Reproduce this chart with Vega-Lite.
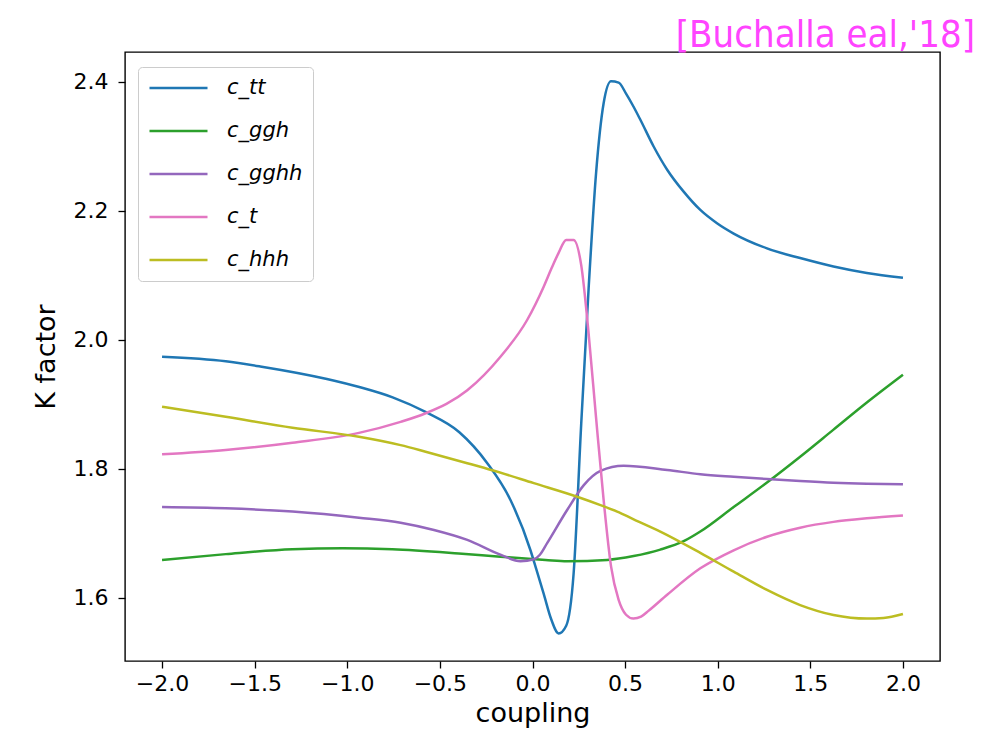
{
  "$schema": "https://vega.github.io/schema/vega-lite/v6.json",
  "width": 815,
  "height": 609,
  "autosize": {"type": "none"},
  "padding": {"left": 125, "top": 52, "right": 48, "bottom": 83},
  "background": "white",
  "title": {"text": "[Buchalla eal,'18]", "anchor": "end", "color": "#ff44ff", "font": "Liberation Sans Narrow, DejaVu Sans Condensed, sans-serif", "fontSize": 38, "fontWeight": "normal", "dx": 35, "dy": 38, "baseline": "alphabetic", "offset": 5},
  "data": {"values": [
    {"s": "c_tt", "coupling": -2.0, "K": 1.974},
    {"s": "c_tt", "coupling": -1.656, "K": 1.967},
    {"s": "c_tt", "coupling": -1.47, "K": 1.959},
    {"s": "c_tt", "coupling": -1.11, "K": 1.9395},
    {"s": "c_tt", "coupling": -0.935, "K": 1.927},
    {"s": "c_tt", "coupling": -0.755, "K": 1.911},
    {"s": "c_tt", "coupling": -0.575, "K": 1.888},
    {"s": "c_tt", "coupling": -0.395, "K": 1.857},
    {"s": "c_tt", "coupling": -0.244, "K": 1.809},
    {"s": "c_tt", "coupling": -0.119, "K": 1.752},
    {"s": "c_tt", "coupling": -0.011, "K": 1.674},
    {"s": "c_tt", "coupling": 0.02, "K": 1.645},
    {"s": "c_tt", "coupling": 0.061, "K": 1.606},
    {"s": "c_tt", "coupling": 0.101, "K": 1.567},
    {"s": "c_tt", "coupling": 0.141, "K": 1.545},
    {"s": "c_tt", "coupling": 0.182, "K": 1.557},
    {"s": "c_tt", "coupling": 0.222, "K": 1.638},
    {"s": "c_tt", "coupling": 0.263, "K": 1.87},
    {"s": "c_tt", "coupling": 0.303, "K": 2.08},
    {"s": "c_tt", "coupling": 0.343, "K": 2.258},
    {"s": "c_tt", "coupling": 0.384, "K": 2.367},
    {"s": "c_tt", "coupling": 0.424, "K": 2.401},
    {"s": "c_tt", "coupling": 0.465, "K": 2.399},
    {"s": "c_tt", "coupling": 0.505, "K": 2.382},
    {"s": "c_tt", "coupling": 0.545, "K": 2.362},
    {"s": "c_tt", "coupling": 0.583, "K": 2.341},
    {"s": "c_tt", "coupling": 0.654, "K": 2.3},
    {"s": "c_tt", "coupling": 0.727, "K": 2.264},
    {"s": "c_tt", "coupling": 0.816, "K": 2.23},
    {"s": "c_tt", "coupling": 0.906, "K": 2.2016},
    {"s": "c_tt", "coupling": 0.996, "K": 2.181},
    {"s": "c_tt", "coupling": 1.086, "K": 2.165},
    {"s": "c_tt", "coupling": 1.266, "K": 2.142},
    {"s": "c_tt", "coupling": 1.445, "K": 2.127},
    {"s": "c_tt", "coupling": 1.625, "K": 2.114},
    {"s": "c_tt", "coupling": 1.805, "K": 2.104},
    {"s": "c_tt", "coupling": 2.0, "K": 2.0966},

    {"s": "c_ggh", "coupling": -2.0, "K": 1.659},
    {"s": "c_ggh", "coupling": -1.656, "K": 1.668},
    {"s": "c_ggh", "coupling": -1.296, "K": 1.6755},
    {"s": "c_ggh", "coupling": -1.026, "K": 1.677},
    {"s": "c_ggh", "coupling": -0.757, "K": 1.6755},
    {"s": "c_ggh", "coupling": -0.398, "K": 1.669},
    {"s": "c_ggh", "coupling": -0.173, "K": 1.664},
    {"s": "c_ggh", "coupling": 0.07, "K": 1.659},
    {"s": "c_ggh", "coupling": 0.187, "K": 1.657},
    {"s": "c_ggh", "coupling": 0.403, "K": 1.659},
    {"s": "c_ggh", "coupling": 0.546, "K": 1.665},
    {"s": "c_ggh", "coupling": 0.69, "K": 1.675},
    {"s": "c_ggh", "coupling": 0.816, "K": 1.688},
    {"s": "c_ggh", "coupling": 0.906, "K": 1.703},
    {"s": "c_ggh", "coupling": 1.086, "K": 1.741},
    {"s": "c_ggh", "coupling": 1.266, "K": 1.779},
    {"s": "c_ggh", "coupling": 1.445, "K": 1.819},
    {"s": "c_ggh", "coupling": 1.625, "K": 1.861},
    {"s": "c_ggh", "coupling": 1.805, "K": 1.903},
    {"s": "c_ggh", "coupling": 2.0, "K": 1.946},

    {"s": "c_gghh", "coupling": -2.0, "K": 1.741},
    {"s": "c_gghh", "coupling": -1.656, "K": 1.739},
    {"s": "c_gghh", "coupling": -1.296, "K": 1.734},
    {"s": "c_gghh", "coupling": -0.937, "K": 1.7245},
    {"s": "c_gghh", "coupling": -0.712, "K": 1.7167},
    {"s": "c_gghh", "coupling": -0.532, "K": 1.7054},
    {"s": "c_gghh", "coupling": -0.352, "K": 1.69},
    {"s": "c_gghh", "coupling": -0.17, "K": 1.6667},
    {"s": "c_gghh", "coupling": -0.065, "K": 1.657},
    {"s": "c_gghh", "coupling": 0.007, "K": 1.66},
    {"s": "c_gghh", "coupling": 0.04, "K": 1.667},
    {"s": "c_gghh", "coupling": 0.079, "K": 1.685},
    {"s": "c_gghh", "coupling": 0.187, "K": 1.7364},
    {"s": "c_gghh", "coupling": 0.277, "K": 1.775},
    {"s": "c_gghh", "coupling": 0.367, "K": 1.797},
    {"s": "c_gghh", "coupling": 0.492, "K": 1.805},
    {"s": "c_gghh", "coupling": 0.727, "K": 1.7984},
    {"s": "c_gghh", "coupling": 0.906, "K": 1.792},
    {"s": "c_gghh", "coupling": 1.086, "K": 1.788},
    {"s": "c_gghh", "coupling": 1.266, "K": 1.7845},
    {"s": "c_gghh", "coupling": 1.445, "K": 1.7814},
    {"s": "c_gghh", "coupling": 1.625, "K": 1.7788},
    {"s": "c_gghh", "coupling": 1.805, "K": 1.7772},
    {"s": "c_gghh", "coupling": 2.0, "K": 1.7763},

    {"s": "c_t", "coupling": -2.0, "K": 1.8228},
    {"s": "c_t", "coupling": -1.656, "K": 1.8295},
    {"s": "c_t", "coupling": -1.296, "K": 1.8408},
    {"s": "c_t", "coupling": -0.937, "K": 1.856},
    {"s": "c_t", "coupling": -0.712, "K": 1.873},
    {"s": "c_t", "coupling": -0.577, "K": 1.8864},
    {"s": "c_t", "coupling": -0.352, "K": 1.922},
    {"s": "c_t", "coupling": -0.173, "K": 1.974},
    {"s": "c_t", "coupling": -0.029, "K": 2.031},
    {"s": "c_t", "coupling": 0.061, "K": 2.083},
    {"s": "c_t", "coupling": 0.101, "K": 2.11},
    {"s": "c_t", "coupling": 0.141, "K": 2.135},
    {"s": "c_t", "coupling": 0.182, "K": 2.155},
    {"s": "c_t", "coupling": 0.222, "K": 2.155},
    {"s": "c_t", "coupling": 0.263, "K": 2.116},
    {"s": "c_t", "coupling": 0.303, "K": 2.01},
    {"s": "c_t", "coupling": 0.343, "K": 1.88},
    {"s": "c_t", "coupling": 0.384, "K": 1.752},
    {"s": "c_t", "coupling": 0.424, "K": 1.649},
    {"s": "c_t", "coupling": 0.465, "K": 1.597},
    {"s": "c_t", "coupling": 0.505, "K": 1.574},
    {"s": "c_t", "coupling": 0.545, "K": 1.568},
    {"s": "c_t", "coupling": 0.586, "K": 1.571},
    {"s": "c_t", "coupling": 0.626, "K": 1.58},
    {"s": "c_t", "coupling": 0.727, "K": 1.605},
    {"s": "c_t", "coupling": 0.906, "K": 1.646},
    {"s": "c_t", "coupling": 1.086, "K": 1.674},
    {"s": "c_t", "coupling": 1.266, "K": 1.695},
    {"s": "c_t", "coupling": 1.445, "K": 1.709},
    {"s": "c_t", "coupling": 1.625, "K": 1.718},
    {"s": "c_t", "coupling": 1.805, "K": 1.7236},
    {"s": "c_t", "coupling": 2.0, "K": 1.728},

    {"s": "c_hhh", "coupling": -2.0, "K": 1.8966},
    {"s": "c_hhh", "coupling": -1.656, "K": 1.881},
    {"s": "c_hhh", "coupling": -1.296, "K": 1.864},
    {"s": "c_hhh", "coupling": -0.937, "K": 1.85},
    {"s": "c_hhh", "coupling": -0.712, "K": 1.837},
    {"s": "c_hhh", "coupling": -0.577, "K": 1.8268},
    {"s": "c_hhh", "coupling": -0.352, "K": 1.809},
    {"s": "c_hhh", "coupling": -0.217, "K": 1.798},
    {"s": "c_hhh", "coupling": 0.007, "K": 1.778},
    {"s": "c_hhh", "coupling": 0.241, "K": 1.757},
    {"s": "c_hhh", "coupling": 0.367, "K": 1.744},
    {"s": "c_hhh", "coupling": 0.457, "K": 1.734},
    {"s": "c_hhh", "coupling": 0.546, "K": 1.722},
    {"s": "c_hhh", "coupling": 0.69, "K": 1.703},
    {"s": "c_hhh", "coupling": 0.906, "K": 1.67},
    {"s": "c_hhh", "coupling": 1.086, "K": 1.6408},
    {"s": "c_hhh", "coupling": 1.266, "K": 1.6124},
    {"s": "c_hhh", "coupling": 1.445, "K": 1.589},
    {"s": "c_hhh", "coupling": 1.625, "K": 1.5736},
    {"s": "c_hhh", "coupling": 1.805, "K": 1.568},
    {"s": "c_hhh", "coupling": 1.895, "K": 1.569},
    {"s": "c_hhh", "coupling": 2.0, "K": 1.5752}
  ]},
  "mark": {"type": "line", "strokeWidth": 2.5, "interpolate": "monotone"},
  "encoding": {
    "x": {"field": "coupling", "type": "quantitative",
      "scale": {"domain": [-2.2, 2.2], "nice": false, "zero": false},
      "axis": {"values": [-2, -1.5, -1, -0.5, 0, 0.5, 1, 1.5, 2], "format": ".1f", "title": "coupling", "labelPadding": 5, "titlePadding": 6}},
    "y": {"field": "K", "type": "quantitative",
      "scale": {"domain": [1.5023, 2.4465], "nice": false, "zero": false},
      "axis": {"values": [1.6, 1.8, 2.0, 2.2, 2.4], "format": ".1f", "title": "K factor", "labelPadding": 10, "titlePadding": 13}},
    "color": {"field": "s", "type": "nominal",
      "scale": {"domain": ["c_tt", "c_ggh", "c_gghh", "c_t", "c_hhh"], "range": ["#1f77b4", "#2ca02c", "#9467bd", "#e377c2", "#bcbd22"]},
      "legend": {"title": null, "orient": "none", "legendX": 13, "legendY": 15}}
  },
  "config": {
    "view": {"stroke": "#000000", "strokeWidth": 1.4},
    "axis": {"domain": false, "grid": false, "ticks": true, "tickSize": 7, "tickColor": "#000000", "tickWidth": 1.3,
      "labelFont": "DejaVu Sans", "labelFontSize": 22, "labelColor": "#000000",
      "titleFont": "DejaVu Sans", "titleFontSize": 27, "titleFontWeight": "normal", "titleColor": "#000000"},
    "legend": {"strokeColor": "#cccccc", "fillColor": "#ffffff", "cornerRadius": 4, "padding": 10,
      "symbolType": "stroke", "symbolSize": 3364, "symbolStrokeWidth": 2.5, "clipHeight": 22,
      "labelFont": "DejaVu Sans", "labelFontSize": 21, "labelFontStyle": "italic", "labelColor": "#000000",
      "labelOffset": 18, "rowPadding": 21}
  }
}
